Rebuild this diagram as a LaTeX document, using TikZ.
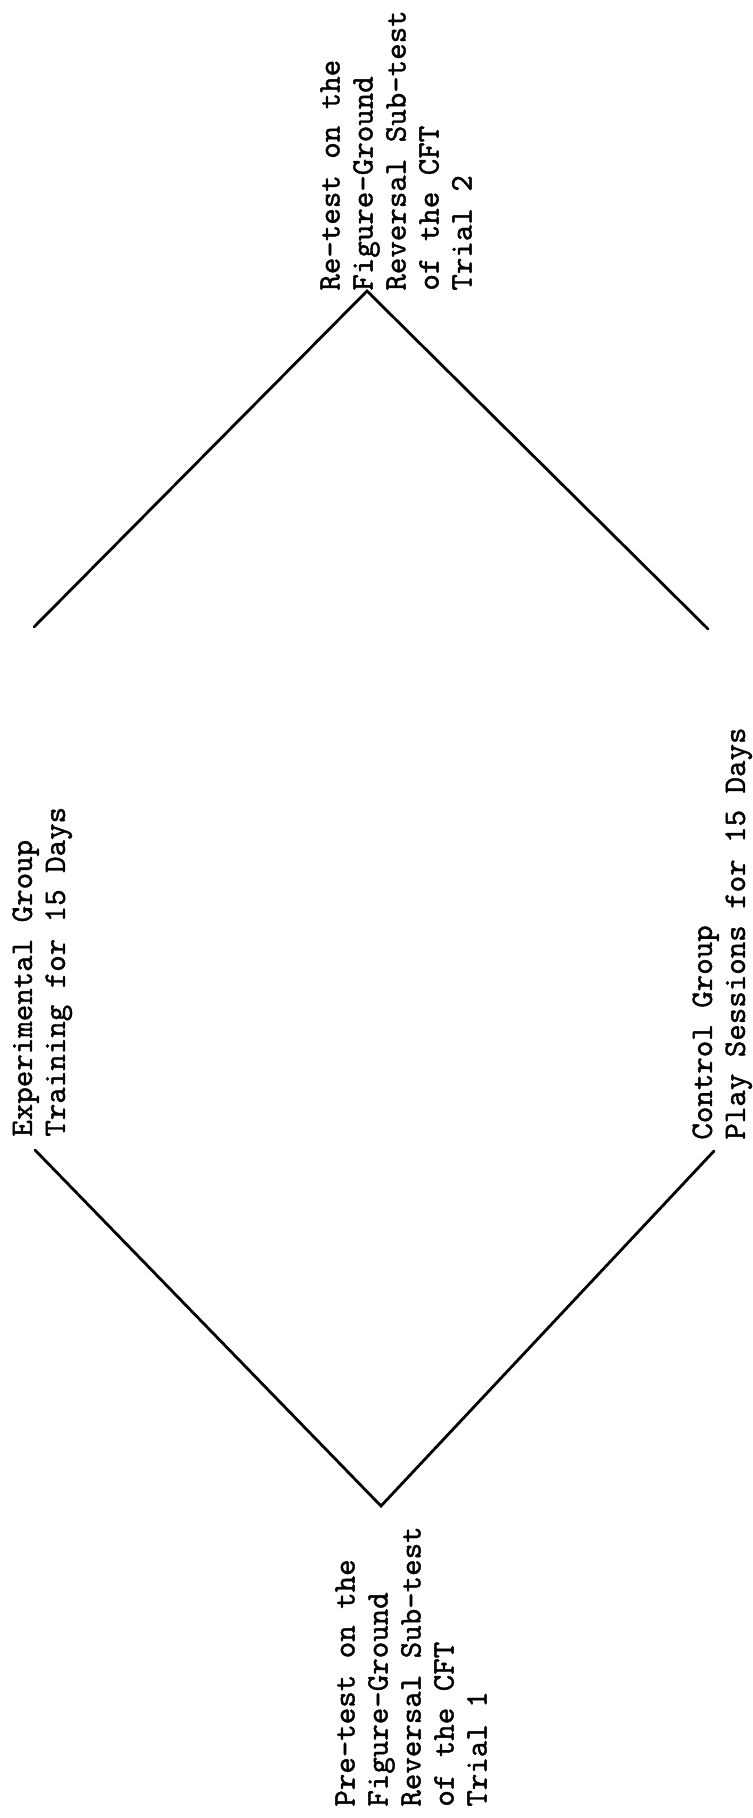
\documentclass[tikz,border=0pt]{standalone}
\usepackage{fontspec}
\newfontfamily\typewriter{lmmono10-regular.otf}[FakeBold=1.2]
\usetikzlibrary{math}
\tikzset{
  typed/.style={rotate=90, anchor=north west, inner sep=0pt, align=left,
    font=\typewriter\fontsize{15.7}{16.5}\selectfont},
  branch/.style={line width=1.4pt, line cap=round}
}

\begin{document}
\begin{tikzpicture}[x=0.5pt, y=-0.5pt]
\useasboundingbox (0,0) rectangle (753,1818);

% the four labels, typed sideways
\node[typed] (retest) at (320,291) {Re-test on the\\Figure-Ground\\Reversal Sub-test\\of the CFT\\Trial 2};
\node[typed] (pretest) at (335,1807) {Pre-test on the\\Figure-Ground\\Reversal Sub-test\\of the CFT\\Trial 1};
\node[typed] (expgroup) at (12,1137) {Experimental Group\\Training for 15 Days};
\node[typed] (ctlgroup) at (692,1140) {Control Group\\Play Sessions for 15 Days};

\coordinate (retestapex) at (367,291);
\coordinate (expupper) at (34,627);
\coordinate (ctlupper) at (708,629);
\coordinate (explower) at (35,1150);
\coordinate (ctllower) at (714,1151);
\coordinate (pretestapex) at (381,1506);

\draw[branch] (expupper) -- (retestapex) -- (ctlupper);
\draw[branch] (explower) -- (pretestapex) -- (ctllower);
\end{tikzpicture}
\end{document}
